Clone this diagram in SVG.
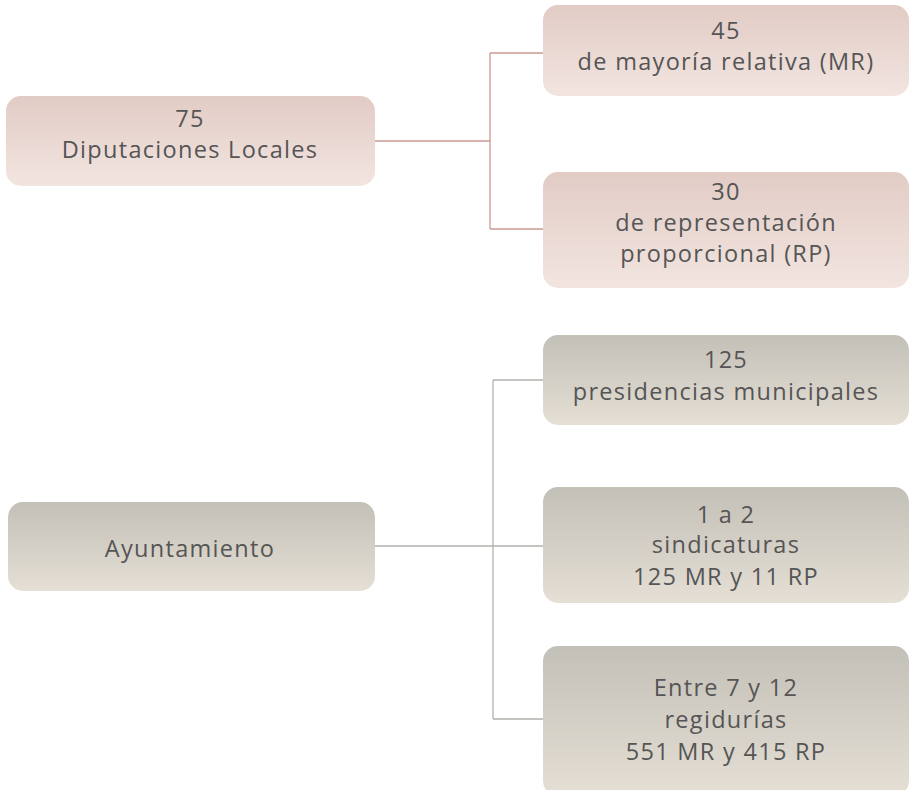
<svg xmlns="http://www.w3.org/2000/svg" width="910" height="790" viewBox="0 0 910 790">
<defs>
<linearGradient id="gp" x1="0" y1="0" x2="0" y2="1"><stop offset="0" stop-color="#e2cbc5"/><stop offset="1" stop-color="#f2e5e0"/></linearGradient>
<linearGradient id="gg" x1="0" y1="0" x2="0" y2="1"><stop offset="0" stop-color="#c3c0b7"/><stop offset="1" stop-color="#e5dfd5"/></linearGradient>
<style>
.p{fill:url(#gp)}
.g{fill:url(#gg)}
text{font-family:"Open Sans","Liberation Sans",sans-serif;font-size:23.5px;letter-spacing:1.3px;fill:#555;text-anchor:middle}
.cp{stroke:#c99a94;stroke-width:1.3;fill:none}
.cg{stroke:#b3b1ac;stroke-width:1.3;fill:none}
</style>
</defs>
<rect width="910" height="790" fill="#fff"/>
<g id="connectors">
<path class="cp" d="M375 141H490M490 53V229M490 53H543M490 229H543"/>
<path class="cg" d="M375 546H543M493 380V719M493 380H543M493 719H543"/>
</g>
<g id="n-diputaciones"><rect class="p" x="6" y="96" width="369" height="90" rx="15"/><text x="190" y="127">75</text><text x="190" y="158">Diputaciones Locales</text></g>
<g id="n-mr"><rect class="p" x="543" y="5" width="366" height="91" rx="15"/><text x="726" y="39">45</text><text x="726" y="70">de mayoría relativa (MR)</text></g>
<g id="n-rp"><rect class="p" x="543" y="172" width="366" height="116" rx="15"/><text x="726" y="200">30</text><text x="726" y="231">de representación</text><text x="726" y="262">proporcional (RP)</text></g>
<g id="n-ayuntamiento"><rect class="g" x="8" y="502" width="367" height="89" rx="15"/><text x="190" y="557">Ayuntamiento</text></g>
<g id="n-presidencias"><rect class="g" x="543" y="335" width="366" height="90" rx="15"/><text x="726" y="368">125</text><text x="726" y="400">presidencias municipales</text></g>
<g id="n-sindicaturas"><rect class="g" x="543" y="487" width="366" height="116" rx="15"/><text x="726" y="523">1 a 2</text><text x="726" y="553">sindicaturas</text><text x="726" y="585">125 MR  y 11 RP</text></g>
<g id="n-regidurias"><rect class="g" x="543" y="646" width="366" height="150" rx="15"/><text x="726" y="696">Entre 7 y 12</text><text x="726" y="728">regidurías</text><text x="726" y="760">551 MR y 415 RP</text></g>
</svg>
